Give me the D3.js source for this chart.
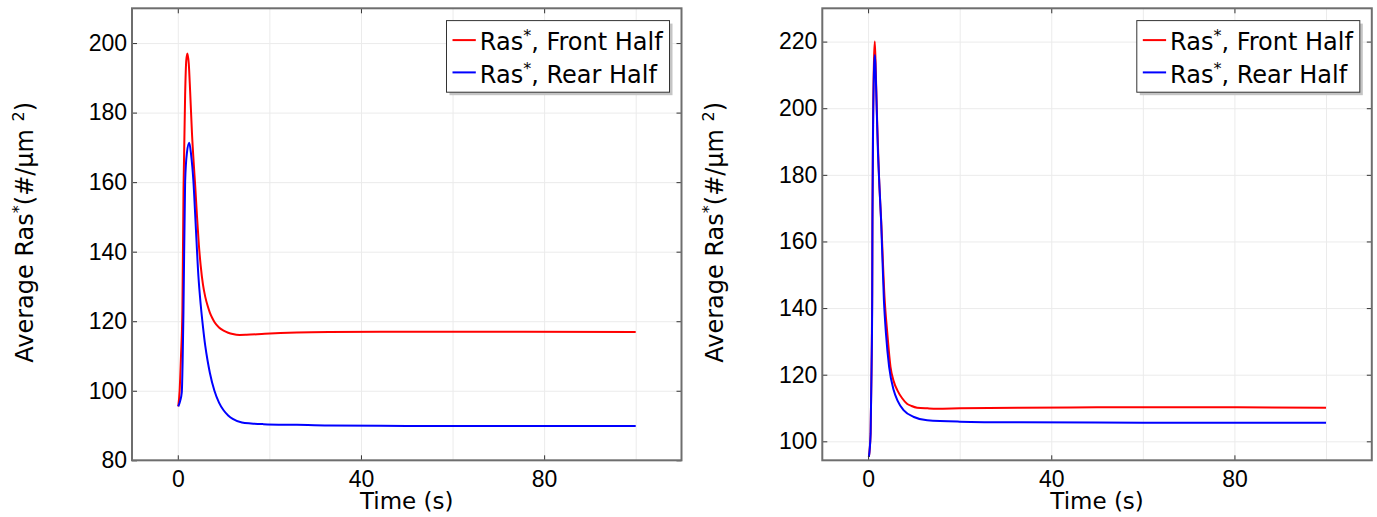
<!DOCTYPE html>
<html>
<head>
<meta charset="utf-8">
<script src="https://cdn.jsdelivr.net/npm/d3@7"></script>
<style>
body { margin: 0; background: #fff; }
svg { display: block; font-family: "DejaVu Sans", sans-serif; }
</style>
</head>
<body>
<div id="chart"></div>
<script>
// values
var xTickValues = [0, 40, 80];
var xGridValues = [0, 20, 40, 60, 80, 100];
var leftYTicks = [80, 100, 120, 140, 160, 180, 200];
var rightYTicks = [100, 120, 140, 160, 180, 200, 220];
var legendNames = ["Front Half", "Rear Half"];

// left panel
var leftFrontT = [0.1, 0.4, 0.7, 1.0, 1.25, 1.6, 1.85, 2.1, 2.4, 2.7, 3.1, 3.5, 3.8, 4.2, 4.6, 5.0, 5.5, 6.0, 6.5, 7.0, 7.5, 8.0, 9.0, 10, 11, 12, 13.5, 15, 19, 26, 33, 50, 70, 100];
var leftFrontV = [95.5, 100, 110, 123, 158, 185, 195, 197, 194, 186, 174, 165, 159, 150, 142, 136, 130.5, 127, 124.5, 122.5, 121, 119.8, 118.2, 117.3, 116.7, 116.3, 116.05, 116.1, 116.4, 116.75, 116.9, 117, 117, 116.9];
var leftRearT = [0.1, 0.5, 0.87, 1.05, 1.23, 1.6, 2.0, 2.5, 2.9, 3.4, 3.9, 4.5, 5.0, 5.5, 6.0, 6.5, 7.0, 8.0, 9.0, 10, 11, 12, 14, 16, 18.7, 26, 33, 50, 100];
var leftRearV = [95.5, 97, 99.5, 108, 122, 160, 168.5, 171.3, 168, 160.5, 148, 133, 124.8, 118.4, 112.9, 108.7, 105.2, 100, 96.6, 94.4, 92.9, 91.9, 90.9, 90.6, 90.4, 90.2, 90.0, 89.9, 89.9];

// right panel
var rightFrontT = [0.17, 0.55, 0.76, 0.9, 0.95, 1.1, 1.3, 1.47, 1.7, 2.0, 2.4, 2.9, 3.6, 4.2, 4.9, 5.6, 6.4, 7.4, 8.5, 9.5, 10.7, 13, 15, 20, 33, 50, 75, 100];
var rightFrontV = [95.3, 102.5, 122.5, 145, 168, 198, 215, 220, 210, 195, 179, 165, 143, 132.4, 122.3, 118, 115.3, 113, 111.3, 110.6, 110.1, 109.9, 109.8, 109.9, 110.1, 110.2, 110.2, 110.1];
var rightRearT = [0.17, 0.55, 0.76, 0.9, 0.95, 1.1, 1.3, 1.47, 1.6, 1.8, 2.1, 2.5, 2.85, 3.45, 3.9, 4.6, 5.6, 6.4, 7.8, 10, 12.9, 20, 33, 60, 100];
var rightRearV = [95.3, 102.3, 122.3, 142, 166, 195, 212, 216, 213, 204, 189, 176, 166, 142.4, 132.4, 122.3, 115.3, 112.3, 109.3, 107.3, 106.3, 105.9, 105.7, 105.6, 105.6];

var width = 1377, height = 517;
var boxW = 549.5, boxH = 452, boxTop = 8.3;
var fontSize = 23;

var svg = d3.select("#chart")
.append("svg")
.attr("width", width)
.attr("height", height);

var panels = [
    {left: 132, yDomain: [80, 210], yTicks: leftYTicks,
     series: [{t: leftFrontT, v: leftFrontV, colour: "#ff0000"}, {t: leftRearT, v: leftRearV, colour: "#0000ff"}]},
    {left: 822.3, yDomain: [94.3, 230], yTicks: rightYTicks,
     series: [{t: rightFrontT, v: rightFrontV, colour: "#ff0000"}, {t: rightRearT, v: rightRearV, colour: "#0000ff"}]}
];

// text with superscript pieces, shifts in px so the baseline comes back
function supText(sel, parts) {
    parts.forEach(function(p) {
        sel.append("tspan")
        .attr("dy", p.sup ? -9 : (p.after ? 9 : null))
        .style("font-size", p.sup ? "16px" : null)
        .text(p.text);
    });
}

panels.forEach(function(panel) {
    var x = d3.scaleLinear().domain([-10, 110]).range([0, boxW]);
    var y = d3.scaleLinear().domain(panel.yDomain).range([boxH, 0]);

    var g = svg.append("g")
    .attr("transform", "translate(" + panel.left + "," + boxTop + ")");

    // grid
    g.append("g")
    .attr("transform", "translate(0," + boxH + ")")
    .call(d3.axisBottom(x).tickValues(xGridValues).tickSize(-boxH).tickFormat(""))
    .call(function(a) { a.select(".domain").remove(); a.selectAll("line").attr("stroke", "#ebebeb"); });
    g.append("g")
    .call(d3.axisLeft(y).tickValues(panel.yTicks).tickSize(-boxW).tickFormat(""))
    .call(function(a) { a.select(".domain").remove(); a.selectAll("line").attr("stroke", "#ebebeb"); });

    // curves
    var line = d3.line()
    .x(function(d) { return x(d[0]); })
    .y(function(d) { return y(d[1]); })
    .curve(d3.curveMonotoneX);

    panel.series.forEach(function(s) {
        g.append("path")
        .datum(s.t.map(function(t, i) { return [t, s.v[i]]; }))
        .attr("fill", "none")
        .attr("stroke", s.colour)
        .attr("stroke-width", 2)
        .attr("d", line);
    });

    // axes with inward ticks
    function styleAxis(a) {
        a.select(".domain").remove();
        a.selectAll("line").attr("stroke", "#333");
        a.selectAll("text").style("font-size", fontSize + "px").attr("fill", "#000");
    }
    g.append("g")
    .attr("transform", "translate(0," + boxH + ")")
    .call(d3.axisBottom(x).tickValues(xTickValues).tickSizeInner(-5).tickSizeOuter(0).tickPadding(10))
    .call(styleAxis);
    g.append("g")
    .call(d3.axisTop(x).tickValues(xTickValues).tickSizeInner(-5).tickSizeOuter(0).tickFormat(""))
    .call(styleAxis);
    g.append("g")
    .call(d3.axisLeft(y).tickValues(panel.yTicks).tickSizeInner(-5).tickSizeOuter(0).tickPadding(5))
    .call(styleAxis);
    g.append("g")
    .attr("transform", "translate(" + boxW + ",0)")
    .call(d3.axisRight(y).tickValues(panel.yTicks).tickSizeInner(-5).tickSizeOuter(0).tickFormat(""))
    .call(styleAxis);

    // frame
    g.append("rect")
    .attr("width", boxW)
    .attr("height", boxH)
    .attr("fill", "none")
    .attr("stroke", "#6e6e6e")
    .attr("stroke-width", 2);

    // axis titles
    g.append("text")
    .attr("x", boxW / 2)
    .attr("y", 500.5)
    .attr("text-anchor", "middle")
    .style("font-size", fontSize + "px")
    .text("Time (s)");

    var yt = g.append("text")
    .attr("transform", "translate(-99," + (boxH / 2 - 2) + ") rotate(-90)")
    .attr("text-anchor", "middle")
    .style("font-size", "24px");
    supText(yt, [{text: "Average Ras"}, {text: "*", sup: true}, {text: "(#/\u03bcm ", after: true}, {text: "2", sup: true}, {text: ")", after: true}]);

    // legend
    var lg = g.append("g")
    .attr("transform", "translate(" + (boxW - 235) + ",12.3)");
    lg.append("rect")
    .attr("x", 3).attr("y", 3)
    .attr("width", 223).attr("height", 71.6)
    .attr("fill", "#c4c4c4");
    lg.append("rect")
    .attr("width", 223).attr("height", 71.6)
    .attr("fill", "#fff")
    .attr("stroke", "#333")
    .attr("stroke-width", 1);

    legendNames.forEach(function(name, i) {
        var ly = 19.5 + i * 32.3;
        lg.append("line")
        .attr("x1", 6).attr("x2", 29.3)
        .attr("y1", ly).attr("y2", ly)
        .attr("stroke", panel.series[i].colour)
        .attr("stroke-width", 2);
        var lt = lg.append("text")
        .attr("x", 33.3)
        .attr("y", ly + 10.3)
        .style("font-size", "24px");
        supText(lt, [{text: "Ras"}, {text: "*", sup: true}, {text: ", " + name, after: true}]);
    });
});
</script>
</body>
</html>
